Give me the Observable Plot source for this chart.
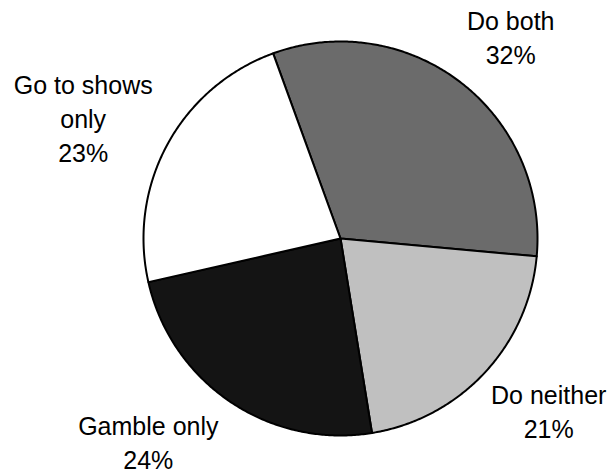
<!DOCTYPE html>
<html>
<head>
<meta charset="utf-8">
<script src="https://cdn.jsdelivr.net/npm/d3@7"></script>
<script src="https://cdn.jsdelivr.net/npm/@observablehq/plot@0.6"></script>
<style>
  html, body { margin: 0; padding: 0; background: #fff; }
</style>
</head>
<body>
<div id="chart"></div>
<script>
// Share of respondents by activity
const categories = ["Do both", "Do neither", "Gamble only", "Go to shows only"];
const shares = [32, 21, 24, 23];
const sliceColors = ["#6b6b6b", "#c0c0c0", "#141414", "#ffffff"];

// Layout
const W = 613, H = 474;
const R = 197;                 // pie radius, px
const cx = 340, cy = 238;      // pie centre, px
const startDeg = -20;          // first slice begins just left of 12 o'clock
const fontSize = 25, lineH = 34;
const fontFamily = '"Liberation Sans", Arial, Helvetica, sans-serif';
const wrapWidth = 160;         // px before a label wraps
const labelGap = 30;           // px between rim and label box
// small hand adjustments to label boxes, px [dx, dy], in slice order
const labelNudge = [[5, 4], [0, -6], [-26, -14], [3, 12]];

const toRad = Math.PI / 180;
const arcs = d3.pie().sort(null)
  .startAngle(startDeg * toRad)
  .endAngle((startDeg + 360) * toRad)(shares);

// Slice outlines in unit-radius coordinates (x right, y down)
const slicePts = [];
arcs.forEach((a, i) => {
  const name = categories[i];
  slicePts.push({name, x: 0, y: 0});
  const n = Math.max(2, Math.ceil((a.endAngle - a.startAngle) / (Math.PI / 360)));
  for (let k = 0; k <= n; k++) {
    const t = a.startAngle + (a.endAngle - a.startAngle) * k / n;
    slicePts.push({name, x: Math.sin(t), y: -Math.cos(t)});
  }
  slicePts.push({name, x: 0, y: 0});
});
const colorOf = Object.fromEntries(categories.map((c, i) => [c, sliceColors[i]]));

// Text measurement for label wrapping and placement
const ctx = document.createElement("canvas").getContext("2d");
ctx.font = `${fontSize}px ${fontFamily}`;
function wrap(str) {
  const words = str.split(" ");
  const lines = [];
  let cur = "";
  for (const w of words) {
    const t = cur ? cur + " " + w : w;
    if (cur && ctx.measureText(t).width > wrapWidth) { lines.push(cur); cur = w; }
    else cur = t;
  }
  lines.push(cur);
  return lines;
}

// Labels sit outside the rim, box pushed outward along the mid-angle
const labels = arcs.map((a, i) => {
  const lines = [...wrap(categories[i]), `${shares[i]}%`];
  const w = d3.max(lines, l => ctx.measureText(l).width);
  const h = lines.length * lineH;
  const m = (a.startAngle + a.endAngle) / 2;
  const s = Math.sin(m), c = -Math.cos(m);
  const px = (R + labelGap) * s + s * w / 2 + labelNudge[i][0];
  const py = (R + labelGap) * c + c * h / 2 + labelNudge[i][1];
  return {text: lines.join("\n"), x: px / R, y: py / R};
});

const chart = Plot.plot({
  width: W,
  height: H,
  margin: 0,
  x: {domain: [-cx / R, (W - cx) / R], range: [0, W], axis: null},
  y: {domain: [-cy / R, (H - cy) / R], range: [0, H], axis: null},
  color: {type: "identity"},
  style: {background: "#fff", fontFamily},
  marks: [
    Plot.line(slicePts, {
      x: "x", y: "y", z: "name",
      fill: d => colorOf[d.name],
      stroke: "#000", strokeWidth: 2, strokeLinejoin: "round"
    }),
    Plot.text(labels, {
      x: "x", y: "y", text: "text",
      fontSize, lineHeight: lineH / fontSize, lineAnchor: "middle",
      textAnchor: "middle", fill: "#000"
    })
  ]
});
document.getElementById("chart").append(chart);
</script>
</body>
</html>
